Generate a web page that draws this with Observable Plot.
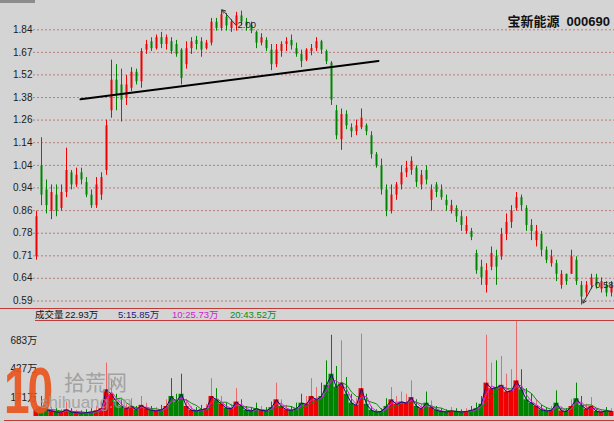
<!DOCTYPE html>
<html><head><meta charset="utf-8">
<script src="https://cdn.jsdelivr.net/npm/d3@7"></script>
<script src="https://cdn.jsdelivr.net/npm/@observablehq/plot@0.6"></script>
<style>
html,body{margin:0;padding:0;background:#d4d4d4;}
#wrap{position:relative;width:614px;height:423px;background:#d4d4d4;overflow:hidden;font-family:"Liberation Sans","Noto Sans CJK SC",sans-serif;}
#price{position:absolute;left:0;top:0;}
#vol{position:absolute;left:0;top:321px;}
.hl{position:absolute;height:1px;background:#c23b3b;}
.lg{position:absolute;top:309px;font-size:9.5px;line-height:12px;white-space:nowrap;font-family:"Liberation Sans","Noto Sans CJK SC",sans-serif;}
#title{position:absolute;right:4px;top:11px;font-size:13px;font-weight:bold;color:#111;font-family:"Liberation Sans","Noto Sans CJK SC",sans-serif;white-space:pre;}
.wm{position:absolute;white-space:nowrap;}
</style></head>
<body><div id="wrap">
<div style="position:absolute;left:0;top:0;width:35px;height:3px;background:#8c8c8c"></div>
<div id="price"></div>
<div class="hl" style="left:0;top:308px;width:614px"></div>
<div class="hl" style="left:35px;top:320px;width:579px"></div>
<div class="hl" style="left:4px;top:420px;width:610px"></div>
<div id="legend"></div>
<div id="vol"></div>
<div id="title"></div>
<div class="wm" style="left:4px;top:354px;font:bold 64px 'Liberation Sans';color:#e8561e;opacity:0.92;transform:scaleX(0.72);transform-origin:left top;letter-spacing:-3px">10</div>
<div class="wm" style="left:64px;top:366px;font:21px 'Noto Sans CJK SC';color:#9a9a9a;opacity:0.85">拾荒网</div>
<div class="wm" style="left:40px;top:393px;font:17px 'Liberation Sans';color:#9a9a9a;opacity:0.8">shihuang.cn</div>
</div>
<script>
// ---- data: one candle per 5 trading days (prices in yuan, volume in 万) ----
const opens  = [0.71,1.04,0.94,0.86,0.92,0.87,0.93,1.01,0.96,1.01,0.97,0.92,0.88,0.92,1.02,1.31,1.49,1.46,1.38,1.44,1.54,1.48,1.69,1.75,1.70,1.78,1.73,1.75,1.73,1.69,1.59,1.70,1.76,1.75,1.70,1.74,1.90,1.85,1.94,1.85,1.87,1.95,1.90,1.87,1.82,1.74,1.76,1.69,1.59,1.68,1.73,1.76,1.70,1.66,1.62,1.68,1.70,1.75,1.68,1.60,1.31,1.16,1.29,1.22,1.20,1.22,1.23,1.18,1.09,1.04,0.94,0.86,0.92,0.96,1.01,1.02,1.03,0.96,1.02,0.90,0.96,0.94,0.90,0.86,0.87,0.84,0.79,0.79,0.72,0.68,0.63,0.68,0.71,0.71,0.78,0.82,0.87,0.91,0.87,0.81,0.76,0.78,0.73,0.69,0.69,0.63,0.66,0.66,0.70,0.63,0.61,0.63,0.65,0.62,0.63,0.61];
const closes = [0.84,0.92,0.88,0.93,0.86,0.93,1.02,0.96,1.00,0.98,0.92,0.88,0.96,0.99,1.23,1.49,1.40,1.37,1.46,1.54,1.48,1.68,1.73,1.70,1.78,1.73,1.78,1.68,1.66,1.50,1.70,1.75,1.73,1.69,1.74,1.90,1.85,1.96,1.87,1.90,1.95,1.90,1.87,1.83,1.74,1.78,1.70,1.59,1.69,1.73,1.75,1.72,1.66,1.61,1.69,1.70,1.75,1.69,1.61,1.37,1.18,1.29,1.23,1.20,1.23,1.27,1.20,1.09,1.04,0.94,0.86,0.92,0.96,1.01,1.03,1.06,0.97,1.00,0.98,0.94,0.93,0.91,0.88,0.88,0.84,0.81,0.81,0.77,0.67,0.65,0.67,0.72,0.68,0.78,0.82,0.86,0.91,0.88,0.81,0.79,0.79,0.73,0.70,0.71,0.66,0.66,0.64,0.71,0.64,0.60,0.63,0.65,0.63,0.64,0.61,0.63];
const highs  = [0.86,1.17,0.98,0.96,0.96,0.96,1.12,1.02,1.03,1.03,0.99,0.94,0.99,1.01,1.26,1.62,1.59,1.56,1.52,1.57,1.56,1.70,1.76,1.78,1.80,1.82,1.80,1.78,1.76,1.70,1.75,1.78,1.79,1.78,1.76,1.93,1.93,2.00,1.97,1.92,1.98,1.99,1.93,1.90,1.83,1.81,1.78,1.73,1.73,1.75,1.78,1.80,1.74,1.69,1.70,1.73,1.78,1.76,1.69,1.61,1.34,1.32,1.31,1.24,1.26,1.32,1.24,1.20,1.10,1.07,0.96,0.96,0.97,1.04,1.06,1.08,1.04,1.02,1.04,0.96,0.97,0.96,0.92,0.90,0.88,0.86,0.84,0.80,0.73,0.70,0.69,0.74,0.73,0.80,0.85,0.88,0.93,0.92,0.88,0.83,0.81,0.79,0.74,0.73,0.70,0.67,0.66,0.73,0.71,0.64,0.64,0.66,0.66,0.65,0.64,0.64];
const lows   = [0.70,0.88,0.85,0.83,0.84,0.86,0.91,0.94,0.95,0.96,0.91,0.87,0.87,0.90,1.00,1.27,1.31,1.25,1.34,1.42,1.46,1.44,1.66,1.68,1.69,1.70,1.69,1.66,1.64,1.46,1.56,1.66,1.69,1.64,1.69,1.72,1.83,1.83,1.83,1.82,1.83,1.87,1.83,1.81,1.70,1.72,1.68,1.55,1.57,1.64,1.68,1.69,1.64,1.57,1.61,1.65,1.68,1.66,1.59,1.34,1.16,1.11,1.21,1.17,1.18,1.21,1.18,1.07,1.03,0.92,0.84,0.85,0.90,0.94,0.99,1.00,0.95,0.94,0.96,0.86,0.91,0.90,0.86,0.85,0.82,0.79,0.78,0.76,0.66,0.63,0.61,0.67,0.63,0.70,0.76,0.80,0.86,0.86,0.79,0.76,0.74,0.71,0.69,0.68,0.64,0.62,0.63,0.66,0.63,0.58,0.60,0.62,0.62,0.61,0.60,0.60];
// typical daily volume within each 5-day block, and the largest single day
const volAvg = [60,80,60,50,40,40,60,40,35,30,35,40,50,70,240,200,130,90,70,90,60,100,70,55,50,60,90,180,130,200,90,55,50,60,70,180,150,110,75,70,130,90,55,50,70,55,50,80,150,90,60,55,70,120,110,180,150,180,280,380,260,300,200,120,100,250,110,55,40,45,90,150,110,130,120,170,90,70,120,80,55,45,40,50,45,40,45,55,70,110,300,250,260,280,220,230,320,240,150,120,90,60,50,55,120,50,45,90,160,100,65,90,45,40,50,45];
const volMax = [120,180,110,80,70,60,130,70,55,50,60,70,90,130,480,320,200,150,110,160,90,180,120,90,80,100,150,340,200,380,150,90,80,100,110,340,250,180,120,110,250,150,90,80,120,90,80,130,300,150,100,90,120,200,180,340,260,300,500,730,450,680,350,200,160,740,200,90,60,70,160,260,180,220,200,320,150,110,220,140,90,70,60,80,70,60,70,90,120,180,730,480,500,540,380,420,850,420,250,200,150,100,80,90,230,80,70,150,300,180,110,170,70,60,80,70];
const daysPerCandle = 5;
const maDays = [5, 10, 20];

const yTicks = [0.590,0.649,0.713,0.784,0.862,0.948,1.042,1.146,1.260,1.385,1.523,1.674,1.840];
const yTickLabels = ["0.59","0.64","0.71","0.78","0.86","0.94","1.04","1.14","1.26","1.38","1.52","1.67","1.84"];
const volTicks = [683,427,171];
const volTickLabels = ["683万","427万","171万"];

// support line (candle index, price)
const trendIdx = [8.8, 68.4];
const trendPrice = [1.375, 1.615];

// extreme markers
const markerText = ["2.00","0.58"];
const markerTipIdx = [37.2, 109.3];
const markerTipPrice = [2.00, 0.585];
const markerFromIdx = [39.8, 111.3];
const markerFromPrice = [1.88, 0.63];

const title = "宝新能源  000690";
const legendItems = ["成交量","22.93万","5:15.85万","10:25.73万","20:43.52万"];
const legendColors = ["#111","#111","#1a1a80","#d020d0","#108a10"];
const legendX = [35,65,118,172,230];

const UP = "#f00000", DOWN = "#008400", UP_LIGHT = "#e86a6a";
const MA_COLORS = ["#101070", "#e020e0", "#108a10"];
const n = opens.length;
const candles = opens.map((o,i)=>({i, open:o, close:closes[i], high:highs[i], low:lows[i], vol:volAvg[i], vmax:volMax[i], up: closes[i] >= o}));
const trend = trendIdx.map((x,k)=>({x, y: trendPrice[k]}));
const markers = markerText.map((t,k)=>({t, x1:markerFromIdx[k], y1:markerFromPrice[k], x2:markerTipIdx[k], y2:markerTipPrice[k]}));

const priceChart = Plot.plot({
  width: 614, height: 308,
  marginLeft: 36, marginRight: 3, marginTop: 29.3, marginBottom: 7.5,
  style: {background: "transparent", overflow: "visible", fontFamily: "Liberation Sans", fontSize: "10px"},
  x: {domain: [0, n-1], axis: null},
  y: {type: "log", domain: [0.59, 1.84], axis: null},
  color: {type: "identity"},
  marks: [
    Plot.ruleY(yTicks, {x1: -0.6, x2: n - 1 + 0.8, stroke: "#b87c7c", strokeDasharray: "2,2", strokeWidth: 1}),
    Plot.text(yTicks, {y: d => d, text: (d,i) => yTickLabels[i], frameAnchor: "left", dx: -4, textAnchor: "end", fill: "#1a1a1a", fontSize: 10}),
    Plot.ruleX(candles, {x: "i", y1: "low", y2: "high", stroke: d => d.up ? UP : DOWN, strokeWidth: 1}),
    Plot.ruleX(candles, {x: "i", y1: "open", y2: "close", stroke: d => d.up ? UP : DOWN, strokeWidth: 2}),
    Plot.line(trend, {x: "x", y: "y", stroke: "#000", strokeWidth: 2}),
    Plot.arrow(markers, {x1: "x1", y1: "y1", x2: "x2", y2: "y2", stroke: "#333", strokeWidth: 1, headLength: 5}),
    Plot.text(markers, {x: "x1", y: "y1", text: "t", dx: 2, textAnchor: "start", fill: "#222", fontSize: 9.5})
  ]
});
document.getElementById("price").appendChild(priceChart);

const volChart = Plot.plot({
  width: 614, height: 100,
  marginLeft: 36, marginRight: 3, marginTop: 19, marginBottom: 5,
  style: {background: "transparent", overflow: "visible", fontFamily: "Liberation Sans, Noto Sans CJK SC", fontSize: "10px"},
  x: {domain: [0, n-1], axis: null},
  y: {domain: [0, 683], axis: null},
  color: {type: "identity"},
  marks: [
    Plot.ruleX(candles, {x: "i", y1: 0, y2: "vmax", stroke: d => d.up ? UP_LIGHT : DOWN, strokeWidth: 1}),
    Plot.rect(candles, {x1: d => d.i - 0.5, x2: d => d.i + 0.5, y1: 0, y2: "vol", fill: d => d.up ? UP : DOWN}),
    ...maDays.slice().reverse().map((m, j) =>
      Plot.lineY(candles, Plot.windowY({k: m / daysPerCandle, anchor: "end"}, {x: "i", y: "vol", stroke: MA_COLORS[2 - j], strokeWidth: 1}))),
    Plot.text(volTicks, {y: d => d, text: (d,i) => volTickLabels[i], frameAnchor: "left", dx: -26, textAnchor: "start", fill: "#1a1a1a", fontSize: 10})
  ]
});
document.getElementById("vol").appendChild(volChart);

document.getElementById("title").textContent = title;
const lg = document.getElementById("legend");
legendItems.forEach((t,k) => {
  const s = document.createElement("div");
  s.className = "lg";
  s.style.left = legendX[k] + "px";
  s.style.color = legendColors[k];
  s.textContent = t;
  lg.appendChild(s);
});
</script>
</body></html>
